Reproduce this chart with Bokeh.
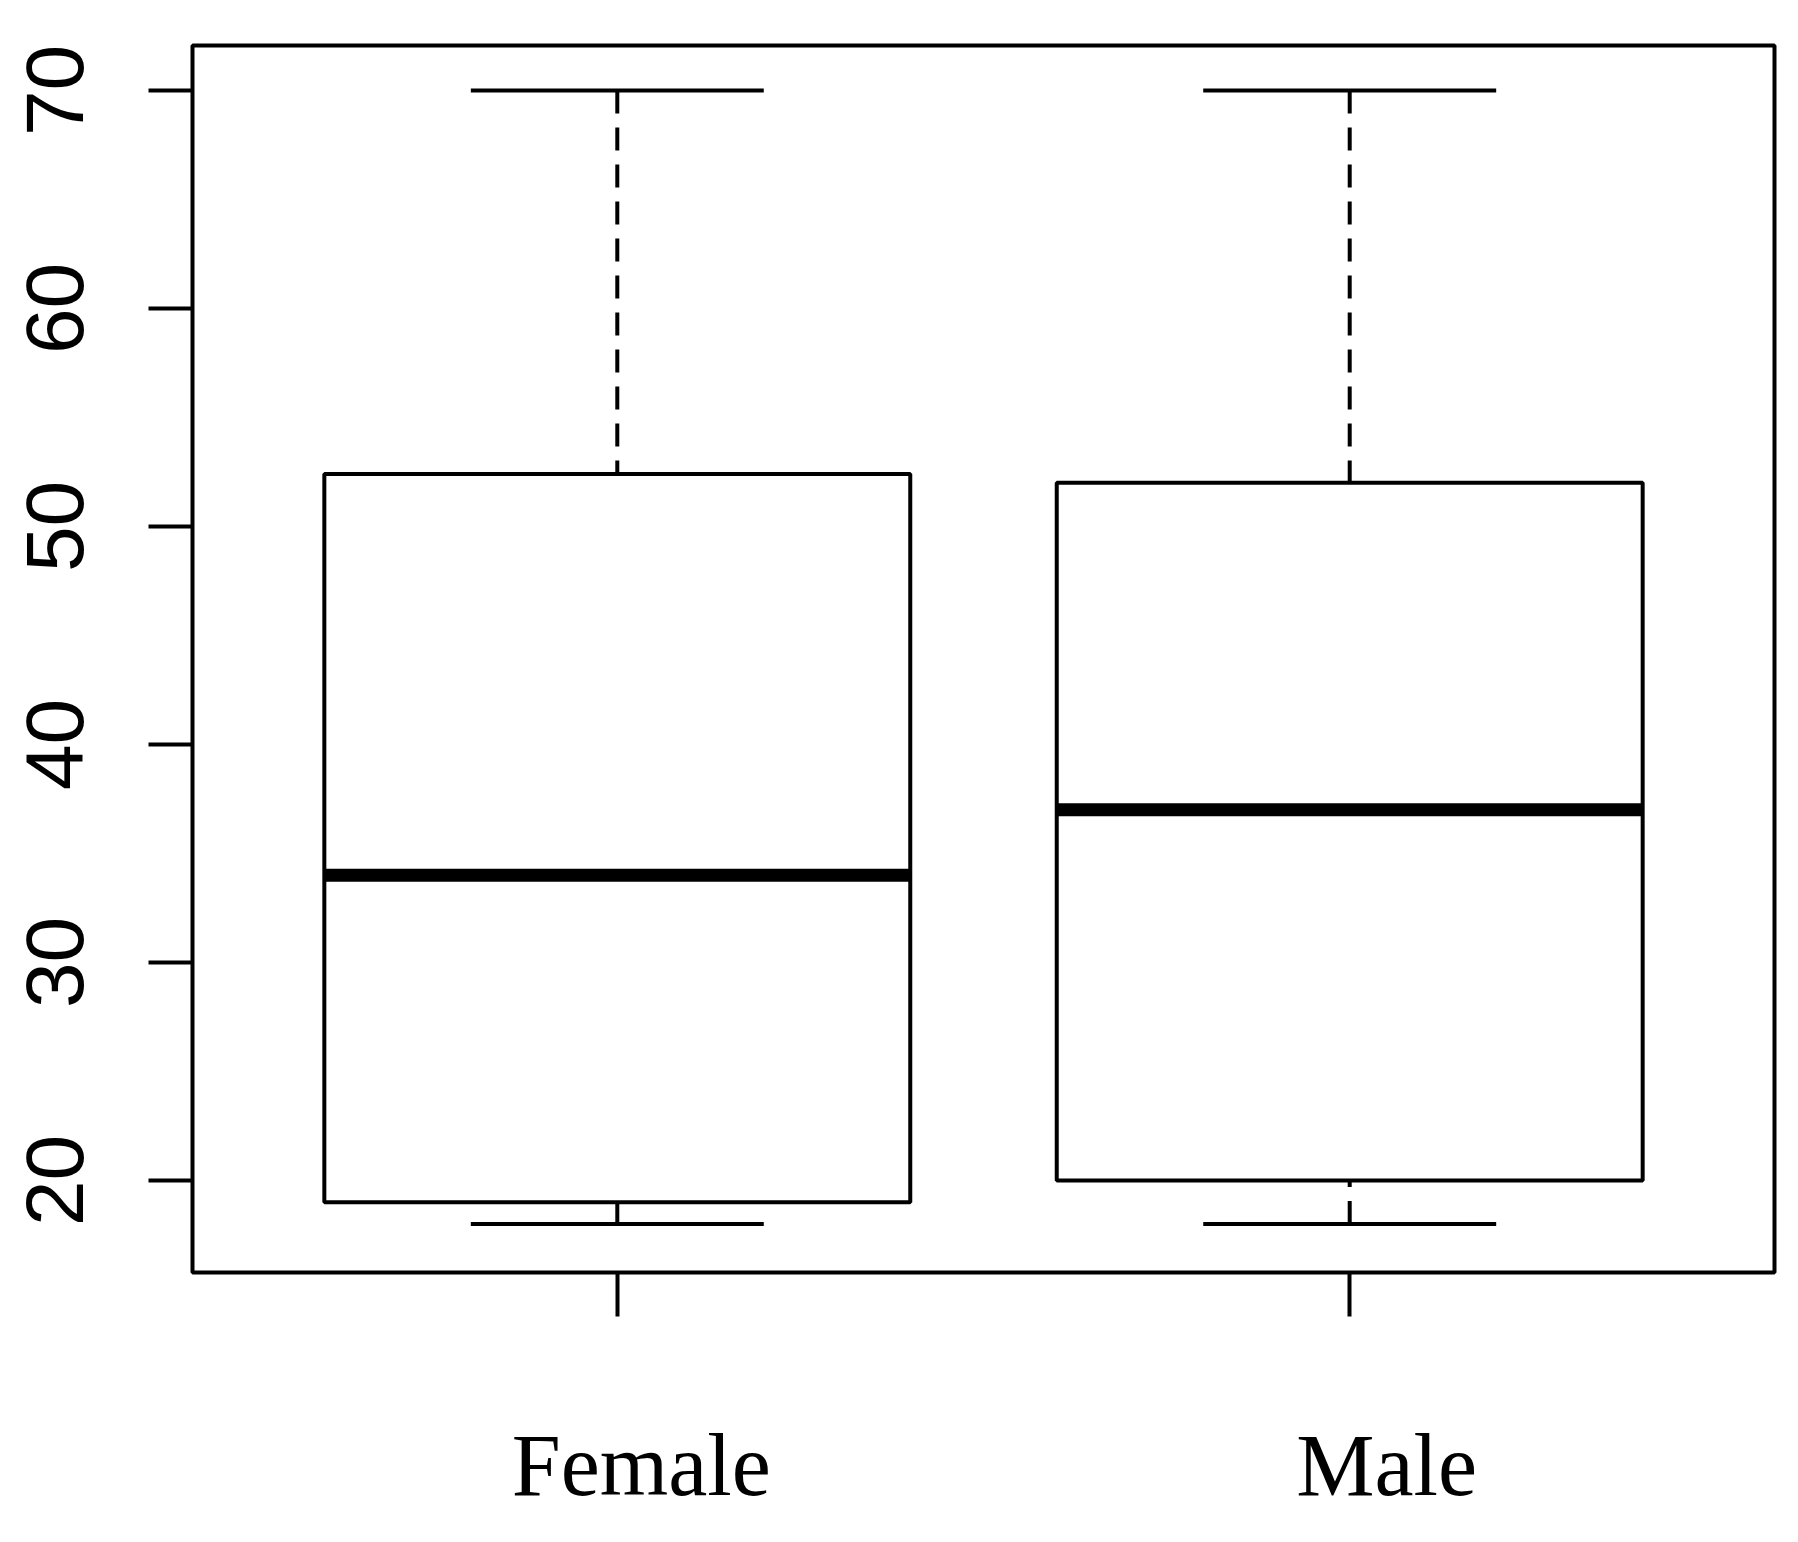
from bokeh.plotting import figure
from bokeh.models import FixedTicker, Range1d, ColumnDataSource, LinearAxis
from bokeh.embed import file_html
from bokeh.resources import INLINE

categories = ["Female", "Male"]
positions = [1, 2]
mins = [18, 18]
q1 = [19, 20]
medians = [34, 37]
q3 = [52.4, 52]
maxs = [70, 70]
y_ticks = [20, 30, 40, 50, 60, 70]

box_half = 0.4
cap_half = 0.2
x_lo, x_hi = 0.42, 2.58
frame_w = 1582
label_shift_px = [24, 37]  # category labels sit slightly right of their ticks

p = figure(width=1790, height=1534, output_backend="svg", toolbar_location=None,
           x_range=Range1d(x_lo, x_hi), y_range=Range1d(15.78, 72.06),
           min_border_left=192, min_border_top=45, min_border_right=16, min_border_bottom=262)
p.background_fill_color = "white"
p.border_fill_color = "white"
p.outline_line_color = "black"
p.outline_line_width = 4
p.xgrid.visible = False
p.ygrid.visible = False

src = ColumnDataSource(dict(
    x=positions,
    left=[x - box_half for x in positions],
    right=[x + box_half for x in positions],
    capl=[x - cap_half for x in positions],
    capr=[x + cap_half for x in positions],
    mins=mins, q1=q1, med=medians, q3=q3, maxs=maxs,
))

# whiskers (dashed), drawn from extreme toward box
p.segment(x0="x", y0="maxs", x1="x", y1="q3", source=src, line_color="black",
          line_width=4, line_dash="23 14", line_cap="butt")
p.segment(x0="x", y0="mins", x1="x", y1="q1", source=src, line_color="black",
          line_width=4, line_dash="23 14", line_cap="butt")
# caps
p.segment(x0="capl", y0="maxs", x1="capr", y1="maxs", source=src, line_color="black",
          line_width=4, line_cap="butt")
p.segment(x0="capl", y0="mins", x1="capr", y1="mins", source=src, line_color="black",
          line_width=4, line_cap="butt")
# boxes
p.quad(left="left", right="right", bottom="q1", top="q3", source=src,
       fill_color="white", line_color="black", line_width=4)
# medians
p.segment(x0="left", y0="med", x1="right", y1="med", source=src, line_color="black",
          line_width=13, line_cap="butt")

# x axis: tick marks only
p.xaxis.ticker = FixedTicker(ticks=positions)
p.xaxis.major_label_overrides = {x: "" for x in positions}
p.xaxis.axis_line_color = None
p.xaxis.major_tick_line_color = "black"
p.xaxis.major_tick_line_width = 4
p.xaxis.major_tick_out = 44
p.xaxis.major_tick_in = 0
p.xaxis.minor_tick_line_color = None
p.xaxis.major_label_standoff = 0

# second axis below carrying the category names
px_per_unit = frame_w / (x_hi - x_lo)
label_pos = [x + s / px_per_unit for x, s in zip(positions, label_shift_px)]
lab_axis = LinearAxis(ticker=FixedTicker(ticks=label_pos),
                      major_label_overrides={lp: c for lp, c in zip(label_pos, categories)})
lab_axis.axis_line_color = None
lab_axis.major_tick_line_color = None
lab_axis.minor_tick_line_color = None
lab_axis.major_tick_out = 0
lab_axis.major_tick_in = 0
lab_axis.major_label_text_font = "Liberation Serif"
lab_axis.major_label_text_font_size = "88px"
lab_axis.major_label_text_color = "black"
lab_axis.major_label_standoff = 100
p.add_layout(lab_axis, "below")

# y axis
p.yaxis.ticker = FixedTicker(ticks=y_ticks)
p.yaxis.axis_line_color = None
p.yaxis.major_tick_line_color = "black"
p.yaxis.major_tick_line_width = 4
p.yaxis.major_tick_out = 44
p.yaxis.major_tick_in = 0
p.yaxis.minor_tick_line_color = None
p.yaxis.major_label_orientation = "parallel"
p.yaxis.major_label_text_font = "Liberation Sans"
p.yaxis.major_label_text_font_size = "82px"
p.yaxis.major_label_text_color = "black"
p.yaxis.major_label_standoff = 65

open("out.html", "w").write(file_html(p, INLINE))
